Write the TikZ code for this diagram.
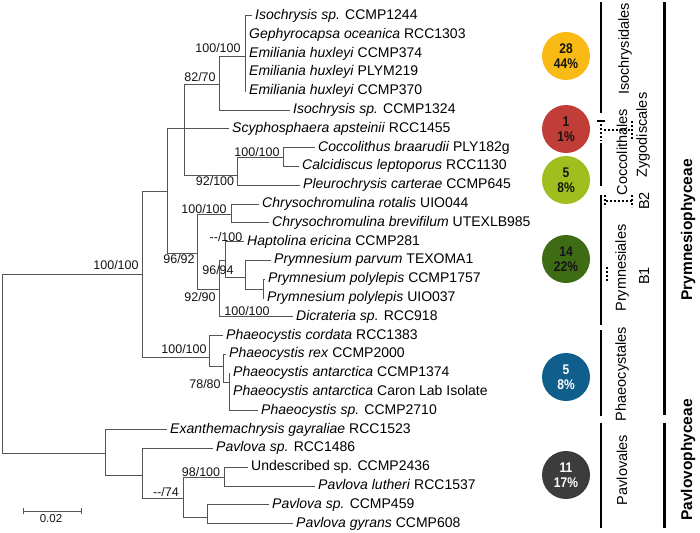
\documentclass[tikz,border=0pt]{standalone}
\usepackage{fontspec}
\setmainfont{Liberation Sans}
\newfontfamily\narrowfont[FakeStretch=0.86]{Liberation Sans}
\usepackage{tikz}
\usetikzlibrary{positioning}
\definecolor{mybranch}{RGB}{85,85,85}
\definecolor{mydark}{RGB}{20,20,20}
\definecolor{cyellow}{RGB}{250,186,22}
\definecolor{cred}{RGB}{192,62,55}
\definecolor{clime}{RGB}{160,190,30}
\definecolor{cgreen}{RGB}{62,108,20}
\definecolor{cblue}{RGB}{16,94,140}
\definecolor{cgrey}{RGB}{60,60,60}
\tikzset{
  leaf/.style={anchor=west, inner xsep=3pt, inner ysep=0pt,
    text height=10pt, text depth=3pt, font=\fontsize{14}{16}\selectfont},
  boot/.style={inner sep=0pt, color=mydark, font=\fontsize{12.5}{14}\selectfont},
  branch/.style={line width=1pt, color=mybranch},
  clade/.style={circle, minimum size=48pt, inner sep=0pt, align=center,
    font=\narrowfont\fontsize{14}{15}\selectfont\bfseries},
  bar/.style={line width=2pt},
  dotbar/.style={line width=2pt, dotted},
  classbar/.style={line width=3pt},
  grp/.style={rotate=90, inner sep=0pt, font=\fontsize{14.5}{16}\selectfont},
  cls/.style={rotate=90, inner sep=0pt, font=\fontsize{15.5}{17}\selectfont\bfseries}
}
\begin{document}
\begin{tikzpicture}[x=1pt, y=-1pt]
  \useasboundingbox (0,0) rectangle (700,532);

  % Internal nodes
  \coordinate (root) at (2,363);
  \coordinate (nA) at (142,274);
  \coordinate (nB) at (167,191);
  \coordinate (nC) at (184,128.8);
  \coordinate (nD) at (219,85);
  \coordinate (nF) at (245,57);
  \coordinate (nE) at (237,175);
  \coordinate (nG) at (283,157);
  \coordinate (nH) at (197,253);
  \coordinate (nI) at (231,214);
  \coordinate (nJ) at (219,289);
  \coordinate (nK) at (225,260);
  \coordinate (nL) at (245,277);
  \coordinate (nM) at (263,289);
  \coordinate (nN) at (209,357);
  \coordinate (nO) at (223,366);
  \coordinate (nP) at (229,382);
  \coordinate (nR) at (105,453);
  \coordinate (nS) at (142,475);
  \coordinate (nT) at (183,498);
  \coordinate (nU) at (224,477);
  \coordinate (nV) at (207,517);

  % Leaves
  \node[leaf] (l1) at (252,16) {\textit{Isochrysis sp.} CCMP1244};
  \node[leaf] (l2) at (246,34.8) {\textit{Gephyrocapsa oceanica} RCC1303};
  \node[leaf] (l3) at (246,53.6) {\textit{Emiliania huxleyi} CCMP374};
  \node[leaf] (l4) at (246,72.4) {\textit{Emiliania huxleyi} PLYM219};
  \node[leaf] (l5) at (246,91.2) {\textit{Emiliania huxleyi} CCMP370};
  \node[leaf] (l6) at (290,110) {\textit{Isochrysis sp.} CCMP1324};
  \node[leaf] (l7) at (229,128.8) {\textit{Scyphosphaera apsteinii} RCC1455};
  \node[leaf] (l8) at (315,147.6) {\textit{Coccolithus braarudii} PLY182g};
  \node[leaf] (l9) at (299,166.4) {\textit{Calcidiscus leptoporus} RCC1130};
  \node[leaf] (l10) at (300,185.2) {\textit{Pleurochrysis carterae} CCMP645};
  \node[leaf] (l11) at (259,204) {\textit{Chrysochromulina rotalis} UIO044};
  \node[leaf] (l12) at (269,222.8) {\textit{Chrysochromulina brevifilum} UTEXLB985};
  \node[leaf] (l13) at (244,241.6) {\textit{Haptolina ericina} CCMP281};
  \node[leaf] (l14) at (271,260.4) {\textit{Prymnesium parvum} TEXOMA1};
  \node[leaf] (l15) at (265,279.2) {\textit{Prymnesium polylepis} CCMP1757};
  \node[leaf] (l16) at (264,298) {\textit{Prymnesium polylepis} UIO037};
  \node[leaf] (l17) at (293,316.8) {\textit{Dicrateria sp.} RCC918};
  \node[leaf] (l18) at (223,335.6) {\textit{Phaeocystis cordata} RCC1383};
  \node[leaf] (l19) at (226,354.4) {\textit{Phaeocystis rex} CCMP2000};
  \node[leaf] (l20) at (230,373.2) {\textit{Phaeocystis antarctica} CCMP1374};
  \node[leaf] (l21) at (230,392) {\textit{Phaeocystis antarctica} Caron Lab Isolate};
  \node[leaf] (l22) at (258,410.8) {\textit{Phaeocystis sp.} CCMP2710};
  \node[leaf] (l23) at (167,429.6) {\textit{Exanthemachrysis gayraliae} RCC1523};
  \node[leaf] (l24) at (213,448.4) {\textit{Pavlova sp.} RCC1486};
  \node[leaf] (l25) at (248,467.2) {Undescribed sp. CCMP2436};
  \node[leaf] (l26) at (315,486) {\textit{Pavlova lutheri} RCC1537};
  \node[leaf] (l27) at (269,504.8) {\textit{Pavlova sp.} CCMP459};
  \node[leaf] (l28) at (293,523.6) {\textit{Pavlova gyrans} CCMP608};

  % Branches
  \draw[branch] (root) |- (nA) (root) |- (nR);
  \draw[branch] (nA) |- (nB) (nA) |- (nN);
  \draw[branch] (nB) |- (nC) (nB) |- (nH);
  \draw[branch] (nC) |- (nD) (nC) |- (l7.west) (nC) |- (nE);
  \draw[branch] (nD) |- (nF) (nD) |- (l6.west);
  \foreach \i in {1,...,5}
    \draw[branch] (nF) |- (l\i.west);
  \draw[branch] (nE) |- (nG) (nE) |- (l10.west);
  \draw[branch] (nG) |- (l8.west) (nG) |- (l9.west);
  \draw[branch] (nH) |- (nI) (nH) |- (nJ);
  \draw[branch] (nI) |- (l11.west) (nI) |- (l12.west);
  \draw[branch] (nJ) |- (nK) (nJ) |- (l17.west);
  \draw[branch] (nK) |- (l13.west) (nK) |- (nL);
  \draw[branch] (nL) |- (l14.west) (nL) |- (nM);
  \draw[branch] (nM) |- (l15.west) (nM) |- (l16.west);
  \draw[branch] (nN) |- (l18.west) (nN) |- (nO);
  \draw[branch] (nO) |- (l19.west) (nO) |- (nP);
  \foreach \i in {20,21,22}
    \draw[branch] (nP) |- (l\i.west);
  \draw[branch] (nR) |- (l23.west) (nR) |- (nS);
  \draw[branch] (nS) |- (l24.west) (nS) |- (nT);
  \draw[branch] (nT) |- (nU) (nT) |- (nV);
  \draw[branch] (nU) |- (l25.west) (nU) |- (l26.west);
  \draw[branch] (nV) |- (l27.west) (nV) |- (l28.west);

  % Support values
  \node[boot] (bA) at (116,265) {100/100};
  \node[boot] (bD) at (200,77) {82/70};
  \node[boot] (bF) at (218,48) {100/100};
  \node[boot] (bG) at (257,152) {100/100};
  \node[boot] (bE) at (215,181) {92/100};
  \node[boot] (bI) at (204,209) {100/100};
  \node[boot] (bK) at (226,237) {-{}-/100};
  \node[boot] (bH) at (179,259) {96/92};
  \node[boot] (bL) at (218,270) {96/94};
  \node[boot] (bJ) at (200,297) {92/90};
  \node[boot] (bM) at (247,311) {100/100};
  \node[boot] (bN) at (184,349) {100/100};
  \node[boot] (bO) at (205,384) {78/80};
  \node[boot] (bU) at (201,472) {98/100};
  \node[boot] (bT) at (166,492) {-{}-/74};

  % Scale bar
  \coordinate (sbL) at (23,511);
  \coordinate (sbR) at (81,511);
  \draw[branch] (sbL) -- (sbR);
  \draw[branch] ([yshift=3pt]sbL) -- ([yshift=-3pt]sbL);
  \draw[branch] ([yshift=3pt]sbR) -- ([yshift=-3pt]sbR);
  \node[boot, font=\fontsize{11.5}{13}\selectfont] (sblab) at (51,519) {0.02};

  % Clade counts
  \node[clade, fill=cyellow, text=mydark] (cIso) at (566,56) {28\\44\%};
  \node[clade, fill=cred, text=mydark] (cScy) at (566,129) {1\\1\%};
  \node[clade, fill=clime, text=mydark] (cCoc) at (566,180) {5\\8\%};
  \node[clade, fill=cgreen, text=mydark] (cPry) at (566,259) {14\\22\%};
  \node[clade, fill=cblue, text=white] (cPha) at (566,377) {5\\8\%};
  \node[clade, fill=cgrey, text=white] (cPav) at (566,475) {11\\17\%};

  % Orders
  \draw[bar] (601,2) -- (601,113);
  \draw[line width=1.5pt] (597,121) -- (605,121);
  \draw[dotbar] (601,124) -- (601,141);
  \draw[dotbar] (604,130) -- (632,130);
  \draw[dotbar] (632,121) -- (632,139);
  \draw[bar] (601,143) -- (601,186);
  \draw[bar] (601,195) -- (601,325);
  \draw[dotbar] (605,195) -- (605,207);
  \draw[dotbar] (606,201) -- (632,201);
  \draw[dotbar] (632,195) -- (632,207);
  \draw[dotbar] (607,267) -- (607,281);
  \draw[bar] (601,330) -- (601,416);
  \draw[bar] (601,423) -- (601,528);
  \node[grp] (oIso) at (625,49) {Isochrysidales};
  \node[grp] (oCoc) at (622,152) {Coccolithales};
  \node[grp] (oZyg) at (643,135) {Zygodiscales};
  \node[grp] (oB2) at (644,201) {B2};
  \node[grp] (oPry) at (622,268) {Prymnesiales};
  \node[grp] (oB1) at (644,276) {B1};
  \node[grp] (oPha) at (622,374) {Phaeocystales};
  \node[grp] (oPav) at (622,470) {Pavlovales};

  % Classes
  \draw[classbar] (664,2) -- (664,415);
  \draw[classbar] (664,423) -- (664,528);
  \node[cls] (kPry) at (688,230) {Prymnesiophyceae};
  \node[cls] (kPav) at (688,460) {Pavlovophyceae};
\end{tikzpicture}
\end{document}
